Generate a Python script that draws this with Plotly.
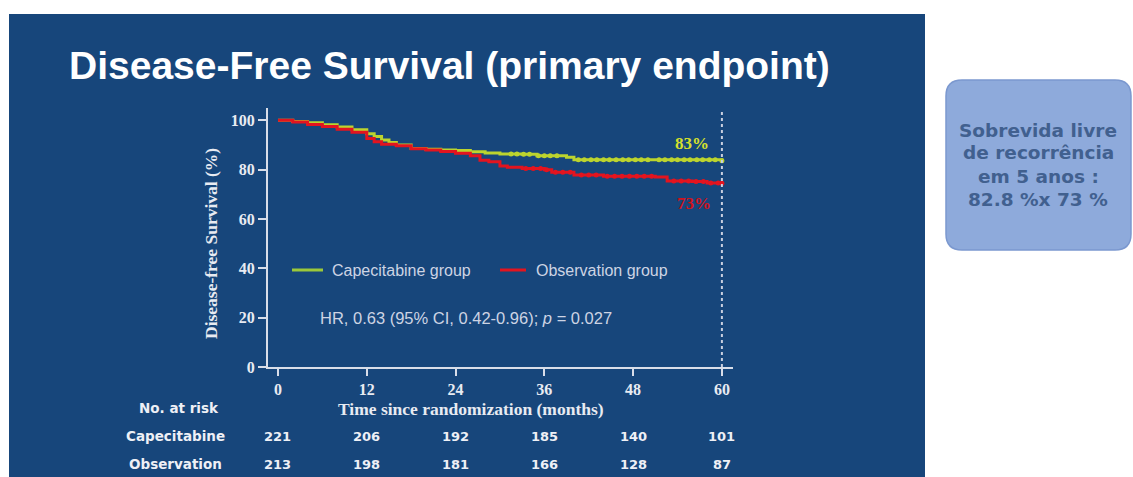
import numpy as np
import plotly.graph_objects as go

W, H = 1133, 477

# ---------------- data ----------------
cap_t = [0, 2, 4, 6, 8, 10, 12, 13, 14, 15, 16, 18, 20, 22, 24, 26, 28, 30, 33, 35, 39, 40, 60]
cap_s = [100, 99.5, 99.0, 98.2, 97.3, 96.2, 94.6, 93.4, 92.0, 91.0, 90.0, 88.6, 88.3, 88.0, 87.8, 87.3, 86.8, 86.4, 86.3, 85.6, 85.0, 84.0, 83.6]
obs_t = [0, 2, 4, 6, 8, 10, 12, 13, 14, 16, 18, 20, 22, 24, 26, 27.3, 28.5, 30, 31, 33, 36, 37, 40, 44, 51, 52.6, 56, 58, 60]
obs_s = [100, 99.3, 98.3, 97.5, 96.4, 95.2, 92.6, 91.3, 90.3, 89.7, 88.5, 88.0, 87.4, 86.7, 85.6, 83.8, 83.2, 81.5, 81.0, 80.5, 80.0, 79.0, 77.8, 77.3, 77.0, 75.4, 75.2, 74.6, 74.5]
cap_cens = [31.5, 32.3, 33.2, 34.0, 35.2, 36.0, 36.8, 37.7, 40.6, 41.4, 42.3, 43.1, 44.0, 44.8, 45.7,
            46.6, 47.4, 48.3, 49.1, 50.0, 51.5, 52.3, 53.2, 54.0, 54.9, 55.7, 56.6, 57.4, 58.3, 59.1, 60]
obs_cens = [33.5, 34.5, 35.5, 36.3, 37.5, 38.5, 39.5, 41.0, 42.0, 43.0, 44.5, 45.5, 46.5, 47.5, 48.5,
            49.5, 50.5, 53.5, 54.5, 55.5, 56.5, 57.5, 58.5, 59.5, 60]
x_ticks = [0, 12, 24, 36, 48, 60]
y_ticks = [0, 20, 40, 60, 80, 100]
risk_groups = ["Capecitabine", "Observation"]
risk_cap = [221, 206, 192, 185, 140, 101]
risk_obs = [213, 198, 181, 166, 128, 87]
series_names = ["Capecitabine group", "Observation group"]
end_labels = ["83%", "73%"]
box_lines = ["Sobrevida livre", "de recorrência", "em 5 anos :", "82.8 %x 73 %"]

CAP_COL = "#bcd42e"
OBS_COL = "#e3141f"
PANEL = "#17467b"
AXCOL = "#d9dee9"
TXT = "#cdd4e4"


def px(x):
    return x / W


def py(y):
    return 1 - y / H


def step_val(ts, ss, t):
    idx = np.searchsorted(np.array(ts), t, side="right") - 1
    return np.array(ss)[idx]


fig = go.Figure()

fig.add_trace(go.Scatter(x=cap_t, y=cap_s, mode="lines", line=dict(color=CAP_COL, width=3, shape="hv"),
                         name=series_names[0], showlegend=False))
fig.add_trace(go.Scatter(x=obs_t, y=obs_s, mode="lines", line=dict(color=OBS_COL, width=3, shape="hv"),
                         name=series_names[1], showlegend=False))
fig.add_trace(go.Scatter(x=cap_cens, y=step_val(cap_t, cap_s, cap_cens), mode="markers",
                         marker=dict(color=CAP_COL, size=5), showlegend=False))
fig.add_trace(go.Scatter(x=obs_cens, y=step_val(obs_t, obs_s, obs_cens), mode="markers",
                         marker=dict(color=OBS_COL, size=5), showlegend=False))

serif = dict(family="Liberation Serif", size=16, color="#e8ebf2", weight="bold")

fig.update_layout(
    width=W, height=H, autosize=False,
    margin=dict(l=0, r=0, t=0, b=0, pad=0),
    paper_bgcolor="white",
    plot_bgcolor="rgba(0,0,0,0)",
    xaxis=dict(domain=[px(268), px(733)], range=[-1.35, 61.5], tickvals=x_ticks,
               showgrid=False, zeroline=False, showline=True, linecolor=AXCOL, linewidth=2,
               ticks="outside", ticklen=7, tickwidth=2, tickcolor=AXCOL, tickfont=serif, automargin=False),
    yaxis=dict(domain=[py(367), py(108)], range=[0, 105], tickvals=y_ticks,
               showgrid=False, zeroline=False, showline=True, linecolor=AXCOL, linewidth=2,
               ticks="outside", ticklen=8, tickwidth=2, tickcolor=AXCOL, tickfont=serif, automargin=False),
)

shapes = []
# dark blue slide panel
shapes.append(dict(type="rect", xref="paper", yref="paper", x0=px(9), x1=px(925), y0=py(477), y1=py(14),
                   fillcolor=PANEL, line=dict(width=0), layer="below"))
# rounded box on the right
bx0, bx1, by0, by1, r = 946, 1131, 80, 250, 16


def P(x, y):
    return f"{px(x):.5f},{py(y):.5f}"


rx, ry = r, r
path = (f"M {P(bx0 + rx, by0)} L {P(bx1 - rx, by0)} Q {P(bx1, by0)} {P(bx1, by0 + ry)} "
        f"L {P(bx1, by1 - ry)} Q {P(bx1, by1)} {P(bx1 - rx, by1)} L {P(bx0 + rx, by1)} "
        f"Q {P(bx0, by1)} {P(bx0, by1 - ry)} L {P(bx0, by0 + ry)} Q {P(bx0, by0)} {P(bx0 + rx, by0)} Z")
shapes.append(dict(type="path", xref="paper", yref="paper", path=path,
                   fillcolor="#8eaadb", line=dict(color="#7b98cf", width=1.5), layer="below"))
# vertical dotted line at 60 months
shapes.append(dict(type="line", xref="x", yref="y", x0=x_ticks[-1], x1=x_ticks[-1], y0=0, y1=104,
                   line=dict(color="#c9d0e0", width=2, dash="dot")))
# legend samples
shapes.append(dict(type="line", xref="paper", yref="paper", x0=px(292), x1=px(323), y0=py(270), y1=py(270),
                   line=dict(color="#9cc83a", width=3)))
shapes.append(dict(type="line", xref="paper", yref="paper", x0=px(500), x1=px(526), y0=py(270), y1=py(270),
                   line=dict(color=OBS_COL, width=3)))
fig.update_layout(shapes=shapes)

ann = []


def add(text, x, y, font, xanchor="center", xref="paper", **kw):
    ann.append(dict(text=text, x=x, y=y, xref=xref, yref="paper", showarrow=False,
                    xanchor=xanchor, yanchor="middle", font=font, **kw))


add("Disease-Free Survival (primary endpoint)", px(449), py(66),
    dict(family="Liberation Sans", size=39, color="white", weight="bold"))
add("Disease-free Survival (%)", px(211), py(244),
    dict(family="Liberation Serif", size=17.5, color="#e8ebf2", weight="bold"), textangle=-90)
add("Time since randomization (months)", px(471), py(409),
    dict(family="Liberation Serif", size=17.5, color="#e8ebf2", weight="bold"))
add(series_names[0], px(330), py(270), dict(family="Liberation Sans", size=16, color=TXT), xanchor="left")
add(series_names[1], px(534), py(270), dict(family="Liberation Sans", size=16, color=TXT), xanchor="left")
add("HR, 0.63 (95% CI, 0.42-0.96); <i>p</i> = 0.027", px(318), py(318),
    dict(family="Liberation Sans", size=16.5, color=TXT), xanchor="left")
add(end_labels[0], px(692), py(143), dict(family="Liberation Serif", size=17, color="#d6e02c", weight="bold"))
add(end_labels[1], px(694), py(203), dict(family="Liberation Serif", size=17, color="#d0131d", weight="bold"))

sans_b = dict(family="DejaVu Sans", size=13.5, color="#eef0f6", weight="bold")
num_b = dict(family="DejaVu Sans", size=13, color="#eef0f6", weight="bold")
add("No. at risk", px(179), py(408), sans_b)
for row, (grp, vals) in enumerate(zip(risk_groups, [risk_cap, risk_obs])):
    yy = py(436 + 28 * row)
    add(grp, px(176), yy, sans_b)
    for t, v in zip(x_ticks, vals):
        add(str(v), t, yy, num_b, xref="x")

box_font = dict(family="DejaVu Sans", size=18.5, color="#41608f", weight="bold")
for i, line in enumerate(box_lines):
    add(line, px(1038), py(130 + 23 * i), box_font)

fig.update_layout(annotations=ann)

post = (
    "document.documentElement.style.margin='0';"
    "document.body.style.margin='0';"
    "document.documentElement.style.overflow='hidden';"
    "document.body.style.overflow='hidden';"
    "var d=document.querySelector('.plotly-graph-div');"
    "d.style.position='fixed';d.style.left='0px';d.style.top='0px';"
)
fig.write_html("out.html", config={"displayModeBar": False, "responsive": False}, post_script=post)
